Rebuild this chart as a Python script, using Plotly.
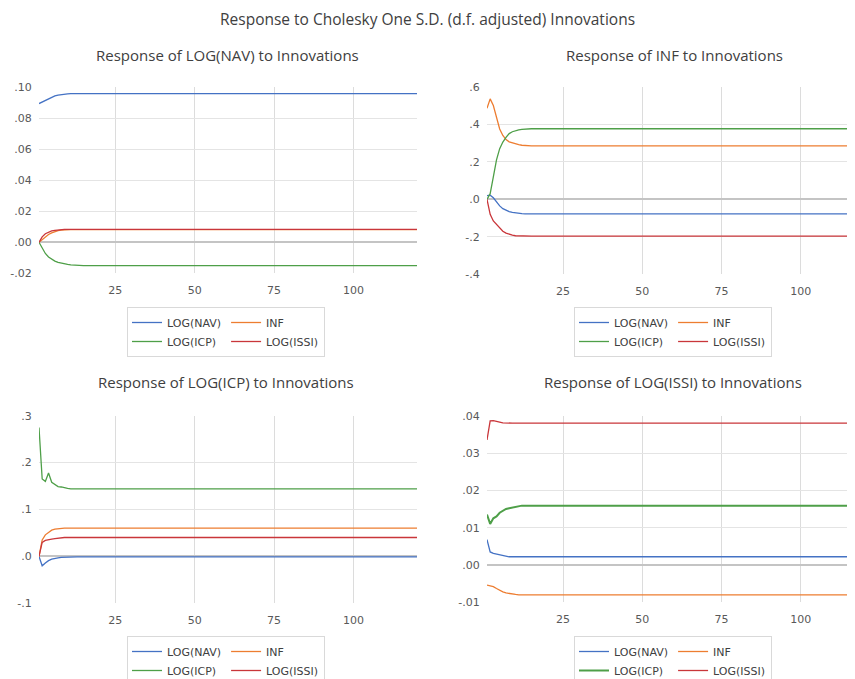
import plotly.graph_objects as go

N = 120
periods = list(range(1, N + 1))

series_names = ["LOG(NAV)", "INF", "LOG(ICP)", "LOG(ISSI)"]
series_colors = ["#4472C4", "#ED7D31", "#4E9F48", "#C9363A"]

# Response of LOG(NAV): early periods, then steady value
nav_nav_early = [0.0895, 0.0905, 0.0915, 0.0928, 0.0937, 0.0945, 0.0950, 0.0954, 0.0957, 0.0958]
nav_nav_steady = 0.0959
nav_inf_early = [0.0, 0.0018, 0.0035, 0.0050, 0.0061, 0.0069, 0.0075, 0.0079, 0.0081, 0.0082]
nav_inf_steady = 0.0082
nav_icp_early = [0.0, -0.0040, -0.0072, -0.0095, -0.0110, -0.0121, -0.0129, -0.0135, -0.0139, -0.0143, -0.0146, -0.0148, -0.0150]
nav_icp_steady = -0.0151
nav_issi_early = [0.0, 0.0035, 0.0055, 0.0066, 0.0073, 0.0077, 0.0080, 0.0082]
nav_issi_steady = 0.0083

# Response of INF
inf_nav_early = [0.020, 0.022, 0.008, -0.015, -0.035, -0.050, -0.060, -0.066, -0.070, -0.073, -0.075, -0.0765, -0.0775]
inf_nav_steady = -0.078
inf_inf_early = [0.485, 0.535, 0.500, 0.430, 0.375, 0.340, 0.318, 0.306, 0.300, 0.295, 0.291, 0.288, 0.286]
inf_inf_steady = 0.285
inf_icp_early = [0.0, 0.03, 0.12, 0.21, 0.27, 0.305, 0.33, 0.35, 0.36, 0.366, 0.370, 0.373, 0.375]
inf_icp_steady = 0.376
inf_issi_early = [0.0, -0.08, -0.115, -0.135, -0.155, -0.170, -0.180, -0.187, -0.191, -0.194, -0.195]
inf_issi_steady = -0.196

# Response of LOG(ICP)
icp_nav_early = [0.0, -0.020, -0.014, -0.009, -0.006, -0.004, -0.003, -0.002, -0.0015, -0.001]
icp_nav_steady = -0.0008
icp_inf_early = [0.0, 0.035, 0.046, 0.052, 0.056, 0.058, 0.059, 0.060]
icp_inf_steady = 0.0602
icp_icp_early = [0.275, 0.165, 0.160, 0.178, 0.158, 0.153, 0.149, 0.148, 0.146, 0.145]
icp_icp_steady = 0.144
icp_issi_early = [0.0, 0.030, 0.034, 0.036, 0.037, 0.038, 0.039, 0.040]
icp_issi_steady = 0.0403

# Response of LOG(ISSI)
issi_nav_early = [0.0068, 0.0035, 0.0031, 0.0029, 0.0027, 0.0025, 0.0023]
issi_nav_steady = 0.0022
issi_inf_early = [-0.0054, -0.0055, -0.0058, -0.0063, -0.0068, -0.0072, -0.0075, -0.0077, -0.0078, -0.0079]
issi_inf_steady = -0.0080
issi_icp_early = [0.0135, 0.0110, 0.0125, 0.0130, 0.0140, 0.0145, 0.0150, 0.0152, 0.0154, 0.0156, 0.0158]
issi_icp_steady = 0.0159
issi_issi_early = [0.0335, 0.0386, 0.0387, 0.0386, 0.0383, 0.0381]
issi_issi_steady = 0.0380

panel_titles = ["Response of LOG(NAV) to Innovations", "Response of INF to Innovations",
                "Response of LOG(ICP) to Innovations", "Response of LOG(ISSI) to Innovations"]
main_title = "Response to Cholesky One S.D. (d.f. adjusted) Innovations"

x_tickvals = [25, 50, 75, 100]
y_ticks = [
    ([-0.02, 0.0, 0.02, 0.04, 0.06, 0.08, 0.10], ["-.02", ".00", ".02", ".04", ".06", ".08", ".10"]),
    ([-0.4, -0.2, 0.0, 0.2, 0.4, 0.6], ["-.4", "-.2", ".0", ".2", ".4", ".6"]),
    ([-0.1, 0.0, 0.1, 0.2, 0.3], ["-.1", ".0", ".1", ".2", ".3"]),
    ([-0.01, 0.0, 0.01, 0.02, 0.03, 0.04], ["-.01", ".00", ".01", ".02", ".03", ".04"]),
]


def full(early, steady):
    return early + [steady] * (N - len(early))


panels = [
    [full(nav_nav_early, nav_nav_steady), full(nav_inf_early, nav_inf_steady),
     full(nav_icp_early, nav_icp_steady), full(nav_issi_early, nav_issi_steady)],
    [full(inf_nav_early, inf_nav_steady), full(inf_inf_early, inf_inf_steady),
     full(inf_icp_early, inf_icp_steady), full(inf_issi_early, inf_issi_steady)],
    [full(icp_nav_early, icp_nav_steady), full(icp_inf_early, icp_inf_steady),
     full(icp_icp_early, icp_icp_steady), full(icp_issi_early, icp_issi_steady)],
    [full(issi_nav_early, issi_nav_steady), full(issi_inf_early, issi_inf_steady),
     full(issi_icp_early, issi_icp_steady), full(issi_issi_early, issi_issi_steady)],
]

W, H = 855, 679
OFF = 8  # page body margin: figure is drawn 8px right/down in the window
FONT = "Open Sans"
TICKFONT = "DejaVu Sans"
TXT = "#595959"


def fx(px):
    return (px - OFF) / W


def fy(py):
    return 1 - (py - OFF) / H


# window-pixel layout of plot areas (left, right, top, bottom) and x ranges
areas = [
    (39, 417, 87.3, 273.3, [1, 120]),
    (487, 855, 86.7, 274.4, [1, 1 + (855 - 487) / 3.17]),
    (39, 417, 415.7, 603.3, [1, 120]),
    (487, 855, 415.7, 602.3, [1, 1 + (855 - 487) / 3.17]),
]
y_ranges = [[-0.02, 0.10], [-0.4, 0.6], [-0.1, 0.3], [-0.01, 0.04]]
legend_pos = [(127, 307), (574, 307), (127, 636), (574, 636)]
title_pos = [(227, 55), (674, 55), (226, 382), (673, 382)]

fig = go.Figure()
layout = dict(
    width=W, height=H, margin=dict(l=0, r=0, t=0, b=0, autoexpand=False),
    paper_bgcolor="white", plot_bgcolor="white",
    font=dict(family=FONT, color=TXT),
    showlegend=True,
)
annotations = [dict(text=main_title, x=fx(427), y=fy(19), xref="paper", yref="paper",
                    xanchor="center", yanchor="middle", showarrow=False,
                    font=dict(size=15.5, color="#404040", family=FONT))]

for p in range(4):
    sfx = "" if p == 0 else str(p + 1)
    lg = "legend" if p == 0 else "legend" + str(p + 1)
    for s in range(4):
        fig.add_trace(go.Scatter(
            x=periods, y=panels[p][s], mode="lines", name=series_names[s],
            line=dict(color=series_colors[s], width=1.3 if not (p == 3 and s == 2) else 2.0),
            xaxis="x" + sfx, yaxis="y" + sfx, legend=lg,
            legendgroup="g%d_%d" % (p, s % 2), showlegend=True,
        ))
    l, r, t, b, xr = areas[p]
    layout["xaxis" + sfx] = dict(
        domain=[fx(l), min(fx(r), 1.0)], range=xr, anchor="y" + sfx, automargin=False,
        tickvals=x_tickvals, showgrid=True, gridcolor="#DCDCDC", gridwidth=1,
        zeroline=False, showline=False, ticks="outside", ticklen=6,
        tickcolor="rgba(0,0,0,0)", tickfont=dict(size=11, color=TXT, family=TICKFONT),
    )
    tv, tt = y_ticks[p]
    layout["yaxis" + sfx] = dict(
        domain=[fy(b), fy(t)], range=y_ranges[p], anchor="x" + sfx, automargin=False,
        tickvals=tv, ticktext=tt, showgrid=True, gridcolor="#E4E4E4", gridwidth=1,
        zeroline=True, zerolinecolor="#C4C4C4", zerolinewidth=1.5, showline=False,
        ticks="outside", ticklen=4, tickcolor="rgba(0,0,0,0)",
        tickfont=dict(size=11, color=TXT, family=TICKFONT),
    )
    lx, ly = legend_pos[p]
    layout[lg] = dict(
        x=fx(lx), y=fy(ly), xanchor="left", yanchor="top",
        orientation="h", traceorder="grouped", itemwidth=30,
        bordercolor="#D9D9D9", borderwidth=1, bgcolor="white",
        font=dict(size=11, color="#404040", family=TICKFONT),
    )
    tx, ty = title_pos[p]
    annotations.append(dict(text=panel_titles[p], x=fx(tx), y=fy(ty), xref="paper",
                            yref="paper", xanchor="center", yanchor="middle", showarrow=False,
                            font=dict(size=15, color="#404040", family=FONT)))

layout["annotations"] = annotations
fig.update_layout(**layout)
fig.write_html("out.html")
